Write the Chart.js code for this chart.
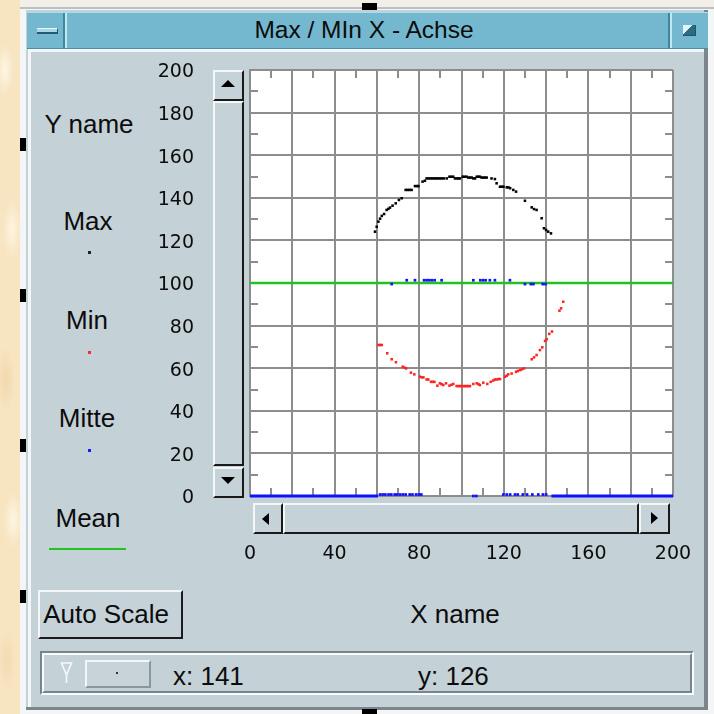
<!DOCTYPE html>
<html>
<head>
<meta charset="utf-8">
<title>Max / MIn X - Achse</title>
<script src="https://cdn.jsdelivr.net/npm/chart.js@4.4.1/dist/chart.umd.min.js"></script>
<style>
  html, body { margin: 0; padding: 0; }
  body {
    width: 714px; height: 714px; position: relative; overflow: hidden;
    background-color: #f7e4c1;
    background-image:
      radial-gradient(ellipse 9px 26px at 5px 70px, rgba(255,248,232,.9), rgba(255,248,232,0)),
      radial-gradient(ellipse 10px 30px at 12px 230px, rgba(255,246,228,.9), rgba(255,246,228,0)),
      radial-gradient(ellipse 9px 34px at 6px 380px, rgba(240,214,168,.8), rgba(240,214,168,0)),
      radial-gradient(ellipse 10px 28px at 13px 520px, rgba(255,247,230,.9), rgba(255,247,230,0)),
      radial-gradient(ellipse 9px 30px at 7px 660px, rgba(242,216,172,.8), rgba(242,216,172,0));
    font-family: "Liberation Sans", Arial, sans-serif;
    color: #0c0c0c;
  }
  .abs { position: absolute; box-sizing: border-box; }
  .topband { left: 20px; top: 0; width: 694px; height: 8px; background: #f2efe8; }
  .outer { left: 20px; top: 7px; width: 694px; height: 707px; background: #f3f5f6; border-top: 2px solid #b7c0c5; }
  .client { left: 26px; top: 10px; width: 682px; height: 700px; background: #c4d1d7;
            border-right: 4px solid #7a868c; border-bottom: 3px solid #7a868c; }
  .clientHi { left: 28px; top: 49px; width: 676px; height: 658px;
              border-top: 3px solid #f4f7f8; border-left: 3px solid #f4f7f8; }
  .titlebar { left: 27px; top: 12px; width: 681px; height: 37px; background: #74b8cf;
              border-top: 1px solid #a9dcea; border-bottom: 1px solid #4b8fa6; }
  .sepDark { width: 2px; background: #3f869e; }
  .sepLight { width: 2px; background: #bfe8f3; }
  .minBar { left: 37px; top: 28px; width: 21px; height: 6px; background: #a8d8e8;
            border-top: 1px solid #e6f6fb; border-bottom: 2px solid #245a6d; border-right: 1px solid #245a6d; }
  .maxBox { left: 683px; top: 25px; width: 13px; height: 11px;
            background: linear-gradient(135deg, #dff3f9 0 45%, #2d6b82 45% 100%);
            border-bottom: 1px solid #1f566a; border-right: 1px solid #1f566a; }
  .marker { background: #000; }
  .lbl { position: absolute; font-size: 26px; line-height: 26px; white-space: nowrap; transform: translate(-50%, -50%); }
  .lblL { position: absolute; font-size: 26px; line-height: 26px; white-space: nowrap; transform: translate(0, -50%); }
  .btn { background: #c5d2d8; border-top: 2px solid #f4f7f8; border-left: 2px solid #f4f7f8;
         border-right: 2px solid #1a1a1a; border-bottom: 2px solid #1a1a1a; }
  .tri { width: 0; height: 0; }
  .groove { border-top: 2px solid #77858b; border-left: 2px solid #77858b;
            border-right: 2px solid #fafcfc; border-bottom: 2px solid #fafcfc; }
  .grooveIn { border-top: 2px solid #fafcfc; border-left: 2px solid #fafcfc;
              border-right: 2px solid #77858b; border-bottom: 2px solid #77858b; }
  .smallBox { border-top: 2px solid #f3f6f7; border-left: 2px solid #f3f6f7;
              border-right: 2px solid #8a979d; border-bottom: 2px solid #8a979d; background: #c7d3d9; }
  #plotWrap { left: 140px; top: 55px; width: 560px; height: 530px; }
  .dot { width: 3px; height: 3px; }
</style>
</head>
<body>
  <!-- desktop and window frame -->
  <div class="abs topband"></div>
  <div class="abs outer"></div>
  <div class="abs client"></div>
  <div class="abs clientHi"></div>

  <!-- title bar -->
  <div class="abs titlebar"></div>
  <div class="abs sepDark" style="left:63px;top:13px;height:35px;"></div>
  <div class="abs sepLight" style="left:65px;top:13px;height:35px;"></div>
  <div class="abs sepDark" style="left:668px;top:13px;height:35px;"></div>
  <div class="abs sepLight" style="left:670px;top:13px;height:35px;"></div>
  <div class="abs minBar"></div>
  <div class="abs maxBox"></div>
  <div class="lbl" style="left:364px;top:30px;font-size:24.5px;">Max / MIn X - Achse</div>

  <!-- resize handles -->
  <div class="abs marker" style="left:20px;top:138px;width:6px;height:13px;"></div>
  <div class="abs marker" style="left:20px;top:289px;width:6px;height:13px;"></div>
  <div class="abs marker" style="left:20px;top:439px;width:6px;height:13px;"></div>
  <div class="abs marker" style="left:20px;top:590px;width:6px;height:13px;"></div>
  <div class="abs marker" style="left:362px;top:3px;width:15px;height:7px;"></div>
  <div class="abs marker" style="left:362px;top:709px;width:15px;height:5px;"></div>

  <!-- legend column -->
  <div class="lbl" style="left:89px;top:124px;">Y name</div>
  <div class="lbl" style="left:88px;top:221px;">Max</div>
  <div class="abs dot" style="left:88px;top:251px;background:#222;"></div>
  <div class="lbl" style="left:87px;top:320px;">Min</div>
  <div class="abs dot" style="left:88px;top:351px;background:#ff2a2a;"></div>
  <div class="lbl" style="left:87px;top:418px;">Mitte</div>
  <div class="abs dot" style="left:88px;top:449px;background:#1a1aff;"></div>
  <div class="lbl" style="left:88px;top:518px;">Mean</div>
  <div class="abs" style="left:49px;top:548px;width:77px;height:2px;background:#1fc41f;"></div>

  <!-- plot -->
  <div class="abs" id="plotWrap"><canvas id="plot" width="560" height="530"></canvas></div>

  <!-- vertical scrollbar -->
  <div class="abs btn" style="left:213px;top:70px;width:31px;height:31px;"></div>
  <div class="abs tri" style="left:221px;top:80px;border-left:7px solid transparent;border-right:7px solid transparent;border-bottom:7px solid #000;"></div>
  <div class="abs btn" style="left:213px;top:101px;width:31px;height:365px;"></div>
  <div class="abs btn" style="left:213px;top:467px;width:31px;height:31px;"></div>
  <div class="abs tri" style="left:221px;top:477px;border-left:7px solid transparent;border-right:7px solid transparent;border-top:7px solid #000;"></div>

  <!-- horizontal scrollbar -->
  <div class="abs btn" style="left:253px;top:503px;width:30px;height:31px;"></div>
  <div class="abs tri" style="left:262px;top:513px;border-top:6px solid transparent;border-bottom:6px solid transparent;border-right:7px solid #000;"></div>
  <div class="abs btn" style="left:283px;top:503px;width:356px;height:31px;"></div>
  <div class="abs btn" style="left:639px;top:503px;width:31px;height:31px;"></div>
  <div class="abs tri" style="left:651px;top:512px;border-top:6px solid transparent;border-bottom:6px solid transparent;border-left:7px solid #000;"></div>

  <!-- controls -->
  <div class="abs btn" style="left:38px;top:590px;width:145px;height:49px;"></div>
  <div class="lbl" style="left:106px;top:614px;">Auto Scale</div>
  <div class="lbl" style="left:455px;top:614px;">X name</div>

  <!-- status line -->
  <div class="abs groove" style="left:40px;top:651px;width:654px;height:44px;"></div>
  <div class="abs grooveIn" style="left:42px;top:653px;width:650px;height:40px;"></div>
  <svg class="abs" style="left:58px;top:659px;" width="18" height="28" viewBox="58 659 18 28">
    <polygon points="61.5,663 71.5,663 66.5,675" fill="none" stroke="#f6f9fa" stroke-width="1.6"/>
    <line x1="66.5" y1="675" x2="66.5" y2="683" stroke="#f6f9fa" stroke-width="1.6"/>
  </svg>
  <div class="abs smallBox" style="left:85px;top:660px;width:66px;height:28px;"></div>
  <div class="abs" style="left:116px;top:672px;width:2px;height:2px;background:#333;"></div>
  <div class="lblL" style="left:173px;top:676px;">x: 141</div>
  <div class="lblL" style="left:418px;top:676px;">y: 126</div>

<script>
// Axis ranges and tick layout
const X_MIN = 0, X_MAX = 200;
const Y_MIN = 0, Y_MAX = 200;
const GRID_STEP = 20;
const xTickLabels = [0, 40, 80, 120, 160, 200];
const minorTicks = [10, 30, 50, 70, 90, 110, 130, 150, 170, 190];

// Max: upper envelope
const maxX = [59.1, 59.9, 60.7, 61.5, 62.3, 63.4, 64.6, 65.4, 66.2, 67.4, 68.9, 70.4, 71.7,
  73.6, 74.5, 75.4, 76.4, 78.0, 79.0, 79.6, 81.6, 82.7, 83.5, 84.4, 85.3, 86.2, 87.1, 88.0,
  88.9, 89.8, 90.7, 91.6, 93.0, 94.3, 95.2, 96.1, 96.9, 97.8, 98.6, 99.3, 100.6, 101.5, 102.4,
  103.2, 104.0, 104.8, 105.6, 106.4, 107.2, 108.0, 108.7, 109.5, 110.3, 111.1, 111.9, 114.2,
  115.8, 116.6, 118.2, 119.0, 119.8, 121.4, 122.2, 123.0, 124.5, 125.8, 130.0, 133.2, 134.3,
  135.5, 137.9, 139.0, 140.0, 141.0, 142.3];
const maxY = [124.1, 126.4, 128.8, 130.2, 131.5, 132.4, 134.3, 134.8, 135.4, 136.3, 137.4, 139.0, 139.8,
  143.7, 143.7, 143.7, 143.7, 145.5, 145.5, 145.5, 147.6, 148.0, 149.1, 149.1, 149.1, 149.1, 149.1, 149.1,
  149.1, 149.1, 149.1, 149.1, 149.1, 149.9, 149.9, 149.9, 149.1, 149.1, 149.1, 149.1, 149.9, 149.9, 149.9,
  149.5, 149.5, 149.5, 149.1, 149.1, 149.9, 149.9, 149.9, 149.5, 149.5, 149.5, 149.5, 149.1,
  148.8, 146.8, 145.2, 145.2, 145.2, 144.9, 144.9, 144.5, 143.7, 142.9, 138.6, 135.5, 134.7,
  134.3, 130.4, 125.7, 124.9, 124.1, 123.3];

// Min: lower envelope
const minX = [60.7, 61.5, 62.3, 64.9, 67.0, 69.0, 72.2, 73.0, 73.8, 76.1, 77.7, 80.4, 81.2, 82.0,
  83.5, 84.3, 85.6, 86.4, 87.2, 88.6, 89.8, 90.6, 91.4, 92.7, 94.3, 95.2, 96.1, 97.7, 98.5, 99.3,
  100.1, 100.9, 101.7, 102.4, 103.2, 104.0, 105.6, 107.2, 108.0, 108.7, 110.3, 112.2, 113.8, 115.0,
  115.8, 116.6, 117.4, 118.2, 120.6, 121.4, 122.1, 123.7, 125.8, 126.6, 127.7, 128.6, 129.6, 133.2,
  134.3, 135.5, 137.1, 138.2, 139.5, 140.3, 141.5, 142.8, 146.3, 147.1, 148.1];
const minY = [70.9, 70.9, 70.9, 67.0, 64.2, 62.8, 60.7, 60.3, 59.9, 57.9, 57.1, 56.0, 55.7, 55.7,
  54.7, 54.7, 53.6, 53.6, 53.6, 51.8, 52.9, 52.5, 52.1, 52.9, 51.8, 52.2, 52.6, 51.6, 51.6, 51.6,
  51.6, 51.6, 51.6, 51.6, 51.6, 51.6, 52.6, 52.9, 52.5, 52.1, 53.2, 52.6, 53.6, 54.2,
  54.7, 54.7, 54.9, 54.9, 56.0, 56.5, 57.1, 57.5, 58.3, 58.7, 59.1, 59.5, 59.9, 64.2,
  65.1, 66.2, 68.5, 69.8, 72.8, 73.6, 76.1, 77.2, 87.0, 88.1, 91.2];

// Mitte: midpoints
const mitteX = [67.0, 74.1, 78.0, 82.3, 83.5, 84.8, 86.0, 87.3, 90.6, 105.6, 108.9, 110.2, 111.4,
  113.4, 115.8, 122.9, 130.0, 132.8, 134.0, 138.4, 139.7,
  61.5, 62.7, 64.0, 65.5, 66.8, 68.4, 69.6, 71.0, 72.3, 73.6, 75.5, 76.8, 78.5, 79.8, 81.0,
  105.6, 107.0, 119.8, 121.4, 123.0, 125.3, 126.6, 129.0, 131.0, 133.5, 136.3, 138.5, 140.0];
const mitteY = [99.5, 101.3, 101.3, 101.3, 101.3, 101.3, 101.3, 101.3, 101.3, 101.3, 101.3, 101.3, 101.3,
  101.3, 101.3, 101.3, 99.5, 99.5, 99.5, 99.5, 99.5,
  0.7, 0.7, 0.7, 0.7, 0.7, 0.7, 0.7, 0.7, 0.7, 0.7, 0.7, 0.7, 0.7, 0.7, 0.7,
  0, 0, 0.7, 0.7, 0.7, 0.7, 0.7, 0.7, 0.7, 0.7, 0.7, 0.7, 0.7];
// Mitte runs that sit on the zero line outside the measured range
const mitteZeroRunStart = [0, 142.5];
const mitteZeroRunEnd = [60.5, 200];

// Mean level
const meanValue = 100;

const GRID_COLOR = '#8d8d8d';
const pts = (xs, ys) => xs.map((x, i) => ({ x, y: ys[i] }));

const zeroRuns = [];
mitteZeroRunStart.forEach((s, i) => {
  if (i > 0) zeroRuns.push({ x: (mitteZeroRunEnd[i - 1] + s) / 2, y: null });
  zeroRuns.push({ x: s, y: 0 }, { x: mitteZeroRunEnd[i], y: 0 });
});

// white plotting field and inward minor ticks on all four edges
const plotFrame = {
  id: 'plotFrame',
  beforeDraw(chart) {
    const { ctx, chartArea: a } = chart;
    ctx.save();
    ctx.fillStyle = '#ffffff';
    ctx.fillRect(a.left, a.top, a.width, a.height);
    ctx.restore();
  },
  beforeDatasetsDraw(chart) {
    const { ctx, chartArea: a, scales } = chart;
    const L = 8;
    ctx.save();
    ctx.strokeStyle = GRID_COLOR;
    ctx.lineWidth = 2;
    ctx.beginPath();
    minorTicks.forEach(v => {
      const px = Math.round(scales.x.getPixelForValue(v));
      const py = Math.round(scales.y.getPixelForValue(v));
      ctx.moveTo(px, a.top); ctx.lineTo(px, a.top + L);
      ctx.moveTo(px, a.bottom); ctx.lineTo(px, a.bottom - L);
      ctx.moveTo(a.left, py); ctx.lineTo(a.left + L, py);
      ctx.moveTo(a.right, py); ctx.lineTo(a.right - L, py);
    });
    ctx.stroke();
    ctx.restore();
  }
};

const tickFont = { family: '"DejaVu Sans", sans-serif', size: 19 };

new Chart(document.getElementById('plot'), {
  type: 'scatter',
  data: {
    datasets: [
      { label: 'Max', data: pts(maxX, maxY), pointStyle: 'rect', pointRadius: 1.8, borderWidth: 0,
        pointBorderWidth: 0, backgroundColor: '#000000', order: 1 },
      { label: 'Min', data: pts(minX, minY), pointStyle: 'rect', pointRadius: 1.8, borderWidth: 0,
        pointBorderWidth: 0, backgroundColor: '#ff2424', order: 2 },
      { label: 'Mitte', data: pts(mitteX, mitteY), pointStyle: 'rect', pointRadius: 1.9, borderWidth: 0,
        pointBorderWidth: 0, backgroundColor: '#1010ff', order: 3, clip: 4 },
      { label: 'Mitte', data: zeroRuns, showLine: true, spanGaps: false, borderColor: '#1010ff',
        borderWidth: 3, pointRadius: 0, order: 3, clip: 4 },
      { label: 'Mean', data: [{ x: X_MIN, y: meanValue }, { x: X_MAX, y: meanValue }], showLine: true,
        borderColor: '#1fc41f', borderWidth: 2.5, pointRadius: 0, order: 4 }
    ]
  },
  options: {
    responsive: false,
    devicePixelRatio: 1,
    animation: false,
    events: [],
    layout: { padding: { left: 0, top: 15, right: 27, bottom: 0 } },
    plugins: { legend: { display: false }, tooltip: { enabled: false } },
    scales: {
      x: {
        type: 'linear', position: 'bottom', min: X_MIN, max: X_MAX,
        ticks: { stepSize: GRID_STEP, autoSkip: false, maxRotation: 0, padding: 47, color: '#0c0c0c',
                 font: tickFont, callback: v => xTickLabels.includes(v) ? String(v) : '' },
        grid: { color: GRID_COLOR, lineWidth: 2, drawTicks: false },
        border: { display: true, color: GRID_COLOR, width: 2 },
        afterFit: s => { s.height = 89; s.paddingLeft = 0; s.paddingRight = 0; }
      },
      y: {
        type: 'linear', position: 'left', min: Y_MIN, max: Y_MAX,
        ticks: { stepSize: GRID_STEP, autoSkip: false, padding: 56, labelOffset: 2.5, color: '#0c0c0c',
                 font: tickFont },
        grid: { color: GRID_COLOR, lineWidth: 2, drawTicks: false },
        border: { display: true, color: GRID_COLOR, width: 2 },
        afterFit: s => { s.width = 110; s.paddingTop = 0; s.paddingBottom = 0; }
      }
    }
  },
  plugins: [plotFrame]
});
</script>
</body>
</html>
